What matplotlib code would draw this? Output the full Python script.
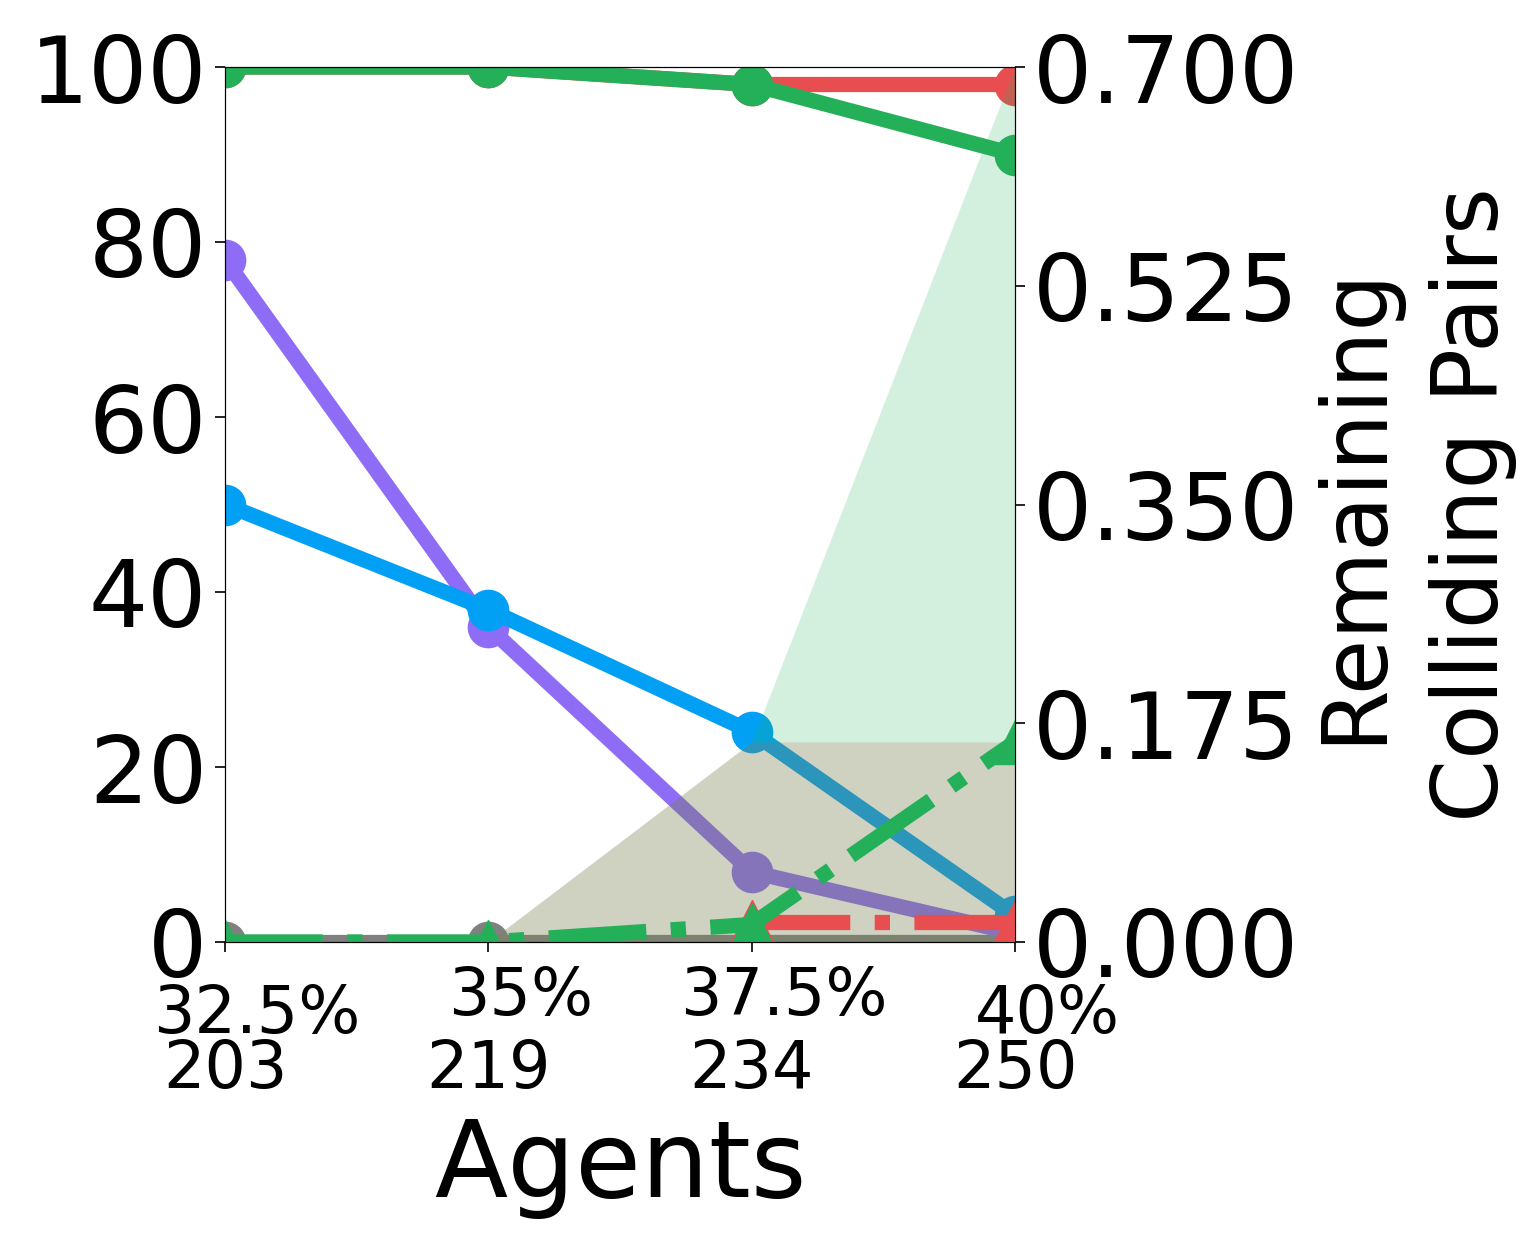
import matplotlib
matplotlib.use("Agg")
import matplotlib.pyplot as plt
import numpy as np

# ---- data ----
x_pos = [0, 1, 2, 3]
pct_labels = ["32.5%", "35%", "37.5%", "40%"]
agent_labels = ["203", "219", "234", "250"]

green_solid = [100, 100, 98, 90]
red_solid = [100, 100, 98, 98]
purple = [78, 36, 8, 1]
blue = [50, 38, 24, 3]
gray = [0, 0, 0, 0]

# right axis (remaining colliding pairs)
green_pairs = [0, 0, 0.014, 0.16]
red_pairs = [np.nan, np.nan, 0.016, 0.016]
red_fill = [0, 0, 0.16, 0.16]
green_fill = [0, 0, 0.16, 0.70]

C_GREEN = "#24b058"
C_RED = "#e84e50"
C_PURPLE = "#8e6cf5"
C_BLUE = "#02a0f5"
C_GRAY = "#808080"

LW = 11
MS = 29

fig = plt.figure(figsize=(15.36, 12.48), dpi=100)
ax = fig.add_axes([225/1536, 1-942/1248, (1015-225)/1536, (942-67)/1248])
ax2 = ax.twinx()

ax.plot(x_pos, gray, color=C_GRAY, lw=LW, marker="o", ms=MS, markevery=[0, 1])
ax.plot(x_pos, purple, color=C_PURPLE, lw=LW, marker="o", ms=MS)
ax.plot(x_pos, blue, color=C_BLUE, lw=LW, marker="o", ms=MS)
ax.plot(x_pos, red_solid, color=C_RED, lw=LW, marker="o", ms=MS)
ax.plot(x_pos, green_solid, color=C_GREEN, lw=LW, marker="o", ms=MS)

ax2.fill_between(x_pos, 0, red_fill, color=C_RED, alpha=0.2, lw=0)
ax2.fill_between(x_pos, 0, green_fill, color=C_GREEN, alpha=0.2, lw=0)
ax2.plot(x_pos, red_pairs, color=C_RED, lw=LW, ls="-.", marker="^", ms=31)
ax2.plot(x_pos, green_pairs, color=C_GREEN, lw=LW, ls="-.", marker="^", ms=31)

ax.set_xlim(0, 3)
ax.set_ylim(0, 100)
ax2.set_ylim(0, 0.7)
ax.set_yticks([0, 20, 40, 60, 80, 100])
ax2.set_yticks([0, 0.175, 0.35, 0.525, 0.7])
ax2.set_yticklabels(["%.3f" % v for v in [0, 0.175, 0.35, 0.525, 0.7]])
ax.set_xticks(x_pos)
ax.set_xticklabels([])

ax.tick_params(axis="y", labelsize=67, length=7, width=1.2, pad=6)
ax2.tick_params(axis="y", labelsize=67, length=7, width=1.2, pad=6)
ax.tick_params(axis="x", length=7, width=1.2)

for i in x_pos:
    dy = -91 if i in (0, 3) else -73
    ax.annotate(pct_labels[i], xy=(i, 0), xycoords=("data", "axes fraction"),
                xytext=(32/1.389, dy/1.389), textcoords="offset points",
                ha="center", va="baseline", fontsize=47, annotation_clip=False)
    ax.annotate(agent_labels[i], xy=(i, 0), xycoords=("data", "axes fraction"),
                xytext=(0, -146/1.389), textcoords="offset points",
                ha="center", va="baseline", fontsize=47, annotation_clip=False)

ax.annotate("Agents", xy=(0.5, 0), xycoords="axes fraction",
            xytext=(0, -(1197-942)/1.389), textcoords="offset points",
            ha="center", va="baseline", fontsize=77)

ax2.set_ylabel("Remaining\nColliding Pairs", fontsize=65, labelpad=8,
               linespacing=1.45)

fig.savefig("out.png", dpi=100)
